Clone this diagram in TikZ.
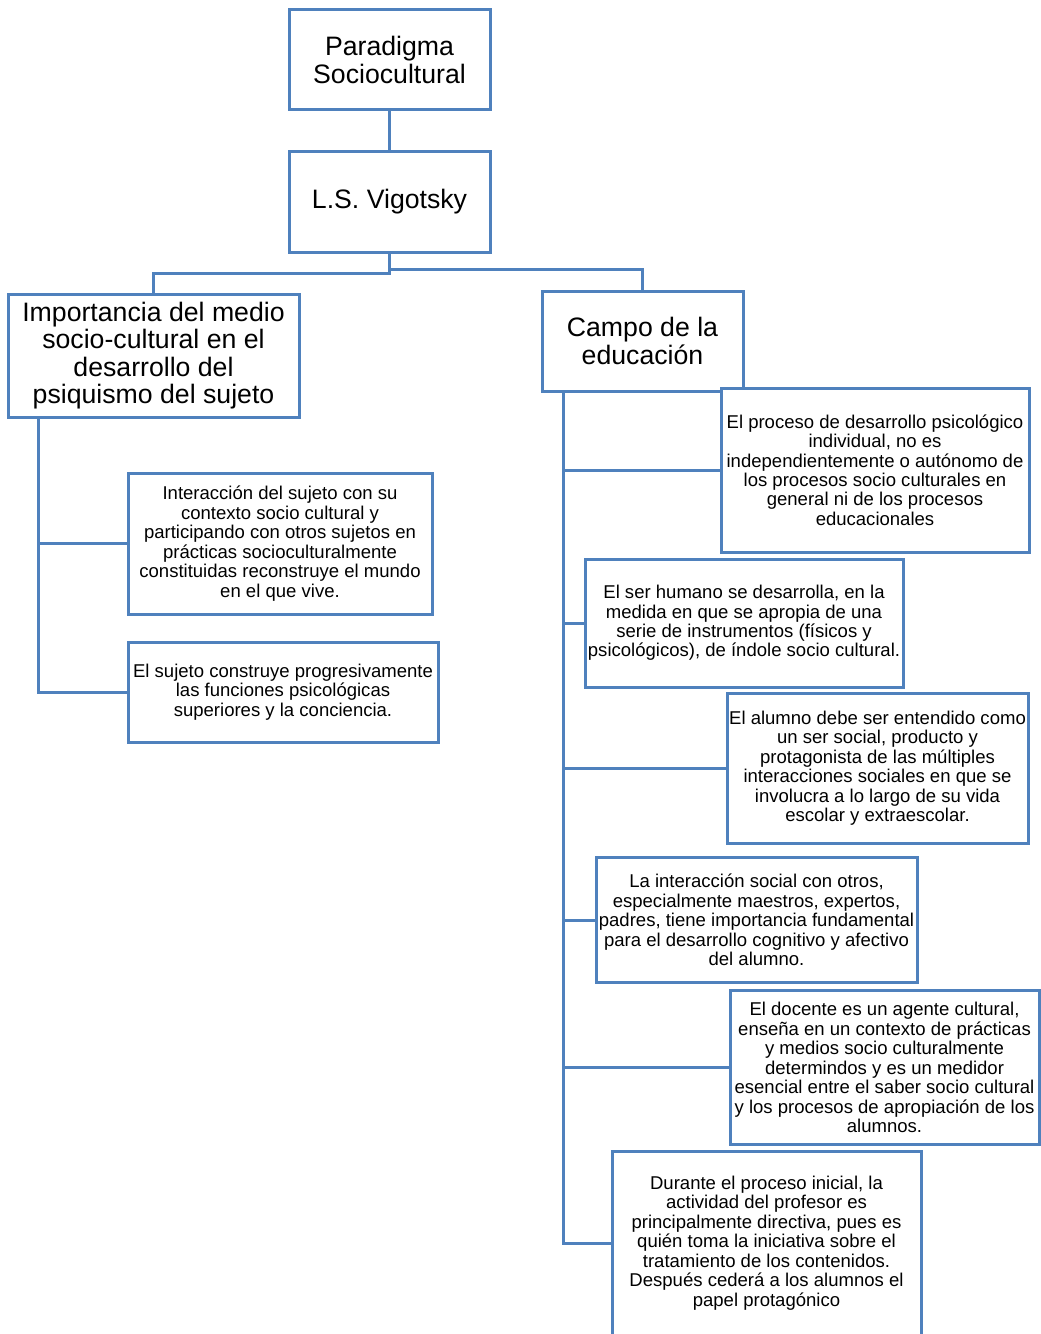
\documentclass[tikz,border=0pt]{standalone}
\usepackage{fontspec}
\setmainfont{Liberation Sans}
\usepackage{xcolor}
\usepackage{tikz}
\usetikzlibrary{positioning}

\definecolor{boxblue}{RGB}{79,129,189}

\begin{document}
\begin{tikzpicture}[
    x=0.75pt, y=-0.75pt,
    % Node styles
    mainbox/.style={rectangle, draw=boxblue, line width=2.25pt, fill=white, align=center, inner sep=0pt, font=\fontsize{20}{20.6}\selectfont},
    idea/.style={rectangle, draw=boxblue, line width=2.25pt, fill=white, align=center, inner sep=0pt, font=\fontsize{13.9}{14.6}\selectfont},
    branch/.style={draw=boxblue, line width=2.25pt},
]
\useasboundingbox (0,0) rectangle (1040,1334);

% Top of the tree
\node[mainbox, minimum width=150.75pt, minimum height=75pt] (paradigma) at (389.5,60) {Paradigma\\Sociocultural};
\node[mainbox, minimum width=150.75pt, minimum height=75pt] (vigotsky) at (389.5,202) {L.S. Vigotsky};

% Second level
\node[mainbox, minimum width=218.25pt, minimum height=92.25pt] (medio) at (153.5,355.5) {Importancia del medio\\socio-cultural en el\\desarrollo del\\psiquismo del sujeto};
\node[mainbox, minimum width=150.75pt, minimum height=75pt] (campo) at (642.5,341) {Campo de la\\educación};

% Left column
\node[idea, minimum width=228pt, minimum height=105.75pt] (interaccion) at (280,543.5) {Interacción del sujeto con su\\contexto socio cultural y\\participando con otros sujetos en\\prácticas socioculturalmente\\constituidas reconstruye el mundo\\en el que vive.};
\node[idea, minimum width=232.5pt, minimum height=75pt] (construye) at (283,692) {El sujeto construye progresivamente\\las funciones psicológicas\\superiores y la conciencia.};

% Right column
\node[idea, minimum width=231pt, minimum height=123pt] (proceso) at (875,470) {El proceso de desarrollo psicológico\\individual, no es\\independientemente o autónomo de\\los procesos socio culturales en\\general ni de los procesos\\educacionales};
\node[idea, minimum width=238.5pt, minimum height=96pt] (humano) at (744,623) {El ser humano se desarrolla, en la\\medida en que se apropia de una\\serie de instrumentos (físicos y\\psicológicos), de índole socio cultural.};
\node[idea, minimum width=225.75pt, minimum height=112.5pt] (alumno) at (877.5,768) {El alumno debe ser entendido como\\un ser social, producto y\\protagonista de las múltiples\\interacciones sociales en que se\\involucra a lo largo de su vida\\escolar y extraescolar.};
\node[idea, minimum width=240.75pt, minimum height=93.75pt] (social) at (756.5,920) {La interacción social con otros,\\especialmente maestros, expertos,\\padres, tiene importancia fundamental\\para el desarrollo cognitivo y afectivo\\del alumno.};
\node[idea, minimum width=231.75pt, minimum height=115.5pt] (docente) at (884.5,1067.5) {El docente es un agente cultural,\\enseña en un contexto de prácticas\\y medios socio culturalmente\\determindos y es un medidor\\esencial entre el saber socio cultural\\y los procesos de apropiación de los\\alumnos.};
\node[idea, minimum width=231.75pt, minimum height=138pt] (inicial) at (766.5,1243) {Durante el proceso inicial, la\\actividad del profesor es\\principalmente directiva, pues es\\quién toma la iniciativa sobre el\\tratamiento de los contenidos.\\Después cederá a los alumnos el\\papel protagónico};

% Trunk start points
\coordinate (ltrunk) at (38,416);
\coordinate (rtrunk) at (563,390);

% Connections
\draw[branch] (paradigma.south) -- (vigotsky.north);
\draw[branch] (vigotsky.south) -- ++(0,20) -| (medio.north);
\draw[branch] (vigotsky.south) -- ++(0,16) -| (campo.north);

\draw[branch] (ltrunk) |- (interaccion.west);
\draw[branch] (ltrunk) |- (construye.west);

\draw[branch] (rtrunk) |- (proceso.west);
\draw[branch] (rtrunk) |- (humano.west);
\draw[branch] (rtrunk) |- (alumno.west);
\draw[branch] (rtrunk) |- (social.west);
\draw[branch] (rtrunk) |- (docente.west);
\draw[branch] (rtrunk) |- (inicial.west);

\end{tikzpicture}
\end{document}
